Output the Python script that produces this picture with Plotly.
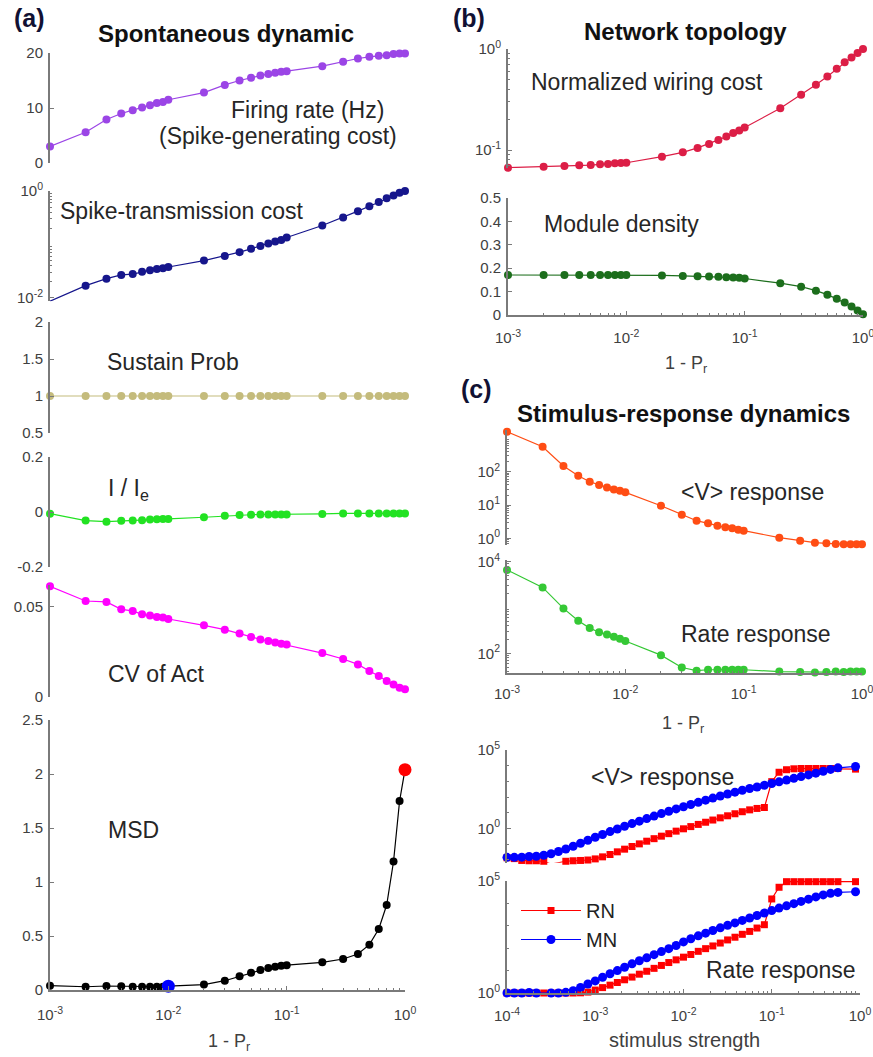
import plotly.graph_objects as go

W, H = 873, 1057

# ---------------- data ----------------
pr = [0.001, 0.002, 0.003, 0.004, 0.005, 0.006, 0.007, 0.008, 0.009,
      0.01, 0.02, 0.03, 0.04, 0.05, 0.06, 0.07, 0.08, 0.09,
      0.1, 0.2, 0.3, 0.4, 0.5, 0.6, 0.7, 0.8, 0.9, 1.0]

firing_rate = [3.0, 5.6, 7.9, 9.0, 9.6, 10.1, 10.5, 10.9, 11.1, 11.5, 12.8, 14.2, 15.0, 15.5,
               15.9, 16.2, 16.4, 16.6, 16.7, 17.6, 18.4, 19.0, 19.3, 19.5, 19.6, 19.8, 19.9, 19.9]
spike_trans = [0.0087, 0.017, 0.023, 0.027, 0.028, 0.031, 0.033, 0.035, 0.036, 0.038, 0.050, 0.061,
               0.072, 0.083, 0.094, 0.104, 0.114, 0.122, 0.135, 0.226, 0.32, 0.42, 0.52, 0.62,
               0.73, 0.82, 0.93, 1.0]
sustain_prob = [1, 1, 1, 1, 1, 1, 1, 1, 1, 1, 1, 1, 1, 1, 1, 1, 1, 1, 1, 1, 1, 1, 1, 1, 1, 1, 1, 1]
i_ie = [-0.006, -0.031, -0.035, -0.032, -0.031, -0.030, -0.027, -0.026, -0.025, -0.025, -0.019,
        -0.014, -0.011, -0.010, -0.009, -0.009, -0.009, -0.009, -0.009, -0.007, -0.005, -0.005,
        -0.005, -0.005, -0.005, -0.005, -0.005, -0.005]
cv_act = [0.0615, 0.0533, 0.0528, 0.0487, 0.0478, 0.0459, 0.0452, 0.0444, 0.0441, 0.0433, 0.0398,
          0.0374, 0.0352, 0.0333, 0.0320, 0.0311, 0.0302, 0.0296, 0.0291, 0.0244, 0.0211, 0.0181,
          0.0144, 0.0117, 0.0089, 0.0069, 0.0052, 0.0043]
msd = [0.04, 0.03, 0.037, 0.035, 0.03, 0.03, 0.03, 0.03, 0.03, 0.035, 0.05, 0.086, 0.127, 0.16,
       0.185, 0.204, 0.216, 0.225, 0.23, 0.256, 0.287, 0.333, 0.42, 0.565, 0.787, 1.19, 1.75, 2.04]
msd_blue_index = 9
msd_red_index = 27

wiring_cost = [0.0668, 0.0682, 0.0693, 0.0705, 0.0710, 0.0721, 0.0726, 0.0738, 0.0743, 0.0748,
               0.0859, 0.0948, 0.105, 0.115, 0.126, 0.136, 0.147, 0.156, 0.167, 0.259, 0.352,
               0.443, 0.535, 0.638, 0.738, 0.826, 0.912, 1.0]
module_density = [0.171, 0.171, 0.171, 0.171, 0.171, 0.171, 0.171, 0.171, 0.171, 0.171, 0.169,
                  0.167, 0.166, 0.164, 0.163, 0.161, 0.160, 0.159, 0.156, 0.136, 0.121, 0.104,
                  0.087, 0.069, 0.053, 0.036, 0.019, 0.003]

v_resp_pr = [1585, 562, 148, 75.9, 50.1, 39.8, 33.9, 29.5, 26.9, 24.0, 9.55, 5.13, 3.39, 2.82,
             2.40, 2.14, 2.0, 1.82, 1.70, 1.05, 0.851, 0.741, 0.708, 0.676, 0.661, 0.661, 0.661, 0.661]
rate_resp_pr = [6610, 2750, 955, 513, 355, 288, 257, 229, 209, 186, 91.2, 49.0, 41.7, 43.7, 43.7,
                43.7, 43.7, 43.7, 43.7, 39.8, 38.9, 38.0, 38.9, 39.8, 38.9, 39.8, 39.8, 39.8]

stim = [1.00e-4, 1.21e-4, 1.47e-4, 1.78e-4, 2.15e-4, 2.61e-4, 3.16e-4, 3.83e-4, 4.64e-4, 5.62e-4, 6.81e-4, 8.25e-4,
        1.00e-3, 1.21e-3, 1.47e-3, 1.78e-3, 2.15e-3, 2.61e-3, 3.16e-3, 3.83e-3, 4.64e-3, 5.62e-3, 6.81e-3, 8.25e-3,
        1.00e-2, 1.21e-2, 1.47e-2, 1.78e-2, 2.15e-2, 2.61e-2, 3.16e-2, 3.83e-2, 4.64e-2, 5.62e-2, 6.81e-2, 8.25e-2,
        0.100, 0.121, 0.147, 0.178, 0.215, 0.261, 0.316, 0.383, 0.464, 0.562, 0.89]

rn_v = [0.0132, 0.0117, 0.0089, 0.0085, 0.0085, 0.0079, 0.0052, 0.0063, 0.0079, 0.0085, 0.0089, 0.0095,
        0.0112, 0.0151, 0.0214, 0.0316, 0.0468, 0.0692, 0.102, 0.151, 0.219, 0.316, 0.457, 0.661,
        0.933, 1.29, 1.78, 2.45, 3.39, 4.68, 6.31, 8.51, 11.5, 15.1, 18.6, 21.4,
        955, 3800, 5500, 6310, 6610, 6610, 6610, 6610, 6610, 6610, 6030]
mn_v = [0.0141, 0.0141, 0.0145, 0.0158, 0.0166, 0.0191, 0.0240, 0.0331, 0.0479, 0.0724, 0.112, 0.174,
        0.269, 0.407, 0.617, 0.912, 1.35, 2.0, 2.88, 4.17, 6.03, 8.71, 12.3, 17.4,
        24.0, 33.1, 45.7, 63.1, 85.1, 115, 155, 204, 269, 347, 437, 562,
        724, 933, 1200, 1550, 2000, 2570, 3310, 4370, 5750, 7240, 8910]
rn_rate = [1.0, 1.0, 1.0, 1.0, 1.0, 1.0, 1.0, 1.0, 1.0, 1.0, 1.02, 1.10,
           1.35, 1.74, 2.24, 2.95, 3.89, 5.13, 6.92, 9.33, 12.6, 17.0, 22.9, 30.2,
           39.8, 52.5, 72.4, 95.5, 126, 170, 234, 309, 417, 562, 794, 1120,
           15800, 52500, 93300, 93300, 93300, 93300, 93300, 93300, 93300, 93300, 93300]
mn_rate = [1.0, 1.0, 1.0, 1.05, 1.0, 0.98, 1.0, 1.0, 1.07, 1.26, 1.78, 2.51,
           3.47, 5.01, 7.24, 10.0, 14.1, 20.0, 27.5, 37.2, 51.3, 70.8, 95.5, 132,
           191, 263, 355, 468, 617, 813, 1050, 1350, 1740, 2240, 2880, 3720,
           4790, 6170, 7760, 9770, 12300, 15500, 19500, 24000, 28200, 30900, 33100]

# ---------------- helpers ----------------
def X(p):
    return p / W


def Y(p):
    return 1 - p / H


FONT = "Liberation Sans, Arial, sans-serif"
AXC = "#7a7a7a"
TXC = "#404040"


def sup(e):
    return "10<sup>%d</sup>" % e


def log_minor(lo, hi):
    return [m * 10.0 ** e for e in range(lo, hi) for m in range(2, 10)]


def yaxis(top, bottom, rng, anchor, log=False, tickvals=None, ticktext=None, minor=None):
    d = dict(domain=[Y(bottom), Y(top)], range=rng, anchor=anchor, automargin=False,
             showline=True, linecolor=AXC, linewidth=2, ticks="inside", ticklen=4,
             tickcolor=AXC, tickwidth=1, showgrid=False, zeroline=False,
             tickfont=dict(family=FONT, size=15, color=TXC), tickmode="array",
             tickvals=tickvals, ticktext=ticktext, ticklabelstandoff=2,
             ticklabeloverflow="allow")
    if log:
        d["type"] = "log"
    if minor is not None:
        d["minor"] = dict(tickmode="array", tickvals=minor, ticks="inside", ticklen=2,
                          tickcolor=AXC, showgrid=False)
    return d


def xaxis(left, right, lo, hi, anchor, standoff):
    return dict(domain=[X(left), X(right)], range=[lo, hi], type="log", anchor=anchor,
                automargin=False, showline=True, linecolor=AXC, linewidth=2, ticks="inside",
                ticklen=4, tickcolor=AXC, showgrid=False, zeroline=False,
                tickfont=dict(family=FONT, size=15, color=TXC), tickmode="array",
                tickvals=[10.0 ** e for e in range(lo, hi + 1)],
                ticktext=[sup(e) for e in range(lo, hi + 1)], ticklabelstandoff=standoff,
                ticklabeloverflow="allow",
                minor=dict(tickmode="array", tickvals=log_minor(lo, hi), ticks="inside",
                           ticklen=2, tickcolor=AXC, showgrid=False))


fig = go.Figure()


def add(xs, ys, color, xa, ya, size=8, lw=1.2, symbol="circle", name=None, legend=False):
    fig.add_trace(go.Scatter(x=xs, y=ys, mode="lines+markers", xaxis=xa, yaxis=ya,
                             line=dict(color=color, width=lw),
                             marker=dict(color=color, size=size, symbol=symbol),
                             cliponaxis=False, name=name, showlegend=legend))


# panel (a)
add(pr, firing_rate, "#9b45e6", "x", "y")
add(pr, spike_trans, "#16168c", "x", "y2")
add(pr, sustain_prob, "#c4bb7c", "x", "y3")
add(pr, i_ie, "#22e222", "x", "y4")
add(pr, cv_act, "#ff00ff", "x", "y5")
add(pr, msd, "#000000", "x", "y6")
fig.add_trace(go.Scatter(x=[pr[msd_blue_index]], y=[msd[msd_blue_index]], mode="markers",
                         xaxis="x", yaxis="y6", marker=dict(color="#0000ff", size=13),
                         cliponaxis=False, showlegend=False))
fig.add_trace(go.Scatter(x=[pr[msd_red_index]], y=[msd[msd_red_index]], mode="markers",
                         xaxis="x", yaxis="y6", marker=dict(color="#ff0000", size=13),
                         cliponaxis=False, showlegend=False))
# panel (b)
add(pr, wiring_cost, "#dc1e46", "x2", "y7")
add(pr, module_density, "#1c6e1c", "x2", "y8")
# panel (c) top
add(pr, v_resp_pr, "#ff4d14", "x3", "y9")
add(pr, rate_resp_pr, "#35c835", "x3", "y10")
# panel (c) bottom
add(stim, rn_v, "#ff0000", "x4", "y11", size=7, symbol="square", name="RN", legend=True)
add(stim, mn_v, "#0000ff", "x4", "y11", size=9, name="MN", legend=True)
add(stim, rn_rate, "#ff0000", "x4", "y12", size=7, symbol="square")
add(stim, mn_rate, "#0000ff", "x4", "y12", size=9)

layout = dict(
    template="none",
    width=W, height=H, margin=dict(l=0, r=0, t=0, b=0, pad=0),
    paper_bgcolor="white", plot_bgcolor="rgba(0,0,0,0)",
    font=dict(family=FONT, color=TXC),
    showlegend=True,
    legend=dict(x=X(516), y=Y(891), xanchor="left", yanchor="top",
                bgcolor="rgba(0,0,0,0)", borderwidth=0,
                font=dict(family=FONT, size=20, color="#222222"),
                itemwidth=60, tracegroupgap=0),
)

layout["xaxis"] = xaxis(50, 405, -3, 0, "y6", 10)
layout["xaxis2"] = xaxis(508, 863, -3, 0, "y8", 8)
layout["xaxis3"] = xaxis(507, 862, -3, 0, "y10", 6)
layout["xaxis4"] = xaxis(507, 860, -4, 0, "y12", 8)

layout["yaxis"] = yaxis(53, 163, [0, 20], "x", tickvals=[0, 10, 20], ticktext=["0", "10", "20"])
layout["yaxis2"] = yaxis(191, 301.2, [-2.06, 0], "x", log=True, tickvals=[0.01, 1],
                         ticktext=[sup(-2), sup(0)], minor=log_minor(-3, 0))
layout["yaxis3"] = yaxis(322, 433, [0.5, 2], "x", tickvals=[0.5, 1, 1.5, 2],
                         ticktext=["0.5", "1", "1.5", "2"])
layout["yaxis4"] = yaxis(457, 567, [-0.2, 0.2], "x", tickvals=[-0.2, 0, 0.2],
                         ticktext=["-0.2", "0", "0.2"])
layout["yaxis5"] = yaxis(585, 697, [0, 0.0622], "x", tickvals=[0, 0.05], ticktext=["0", "0.05"])
layout["yaxis6"] = yaxis(720, 990, [0, 2.5], "x", tickvals=[0, 0.5, 1, 1.5, 2, 2.5],
                         ticktext=["0", "0.5", "1", "1.5", "2", "2.5"])
layout["yaxis7"] = yaxis(49, 168.2, [-1.18, 0], "x2", log=True, tickvals=[0.1, 1],
                         ticktext=[sup(-1), sup(0)], minor=log_minor(-2, 0))
layout["yaxis8"] = yaxis(198, 315, [0, 0.5], "x2", tickvals=[0, 0.1, 0.2, 0.3, 0.4, 0.5],
                         ticktext=["0", "0.1", "0.2", "0.3", "0.4", "0.5"])
layout["yaxis9"] = yaxis(430.1, 545, [-0.2, 3.25], "x3", log=True, tickvals=[1, 10, 100],
                         ticktext=[sup(0), sup(1), sup(2)], minor=log_minor(-1, 3))
layout["yaxis10"] = yaxis(559.9, 673.3, [1.563, 4.04], "x3", log=True, tickvals=[100, 10000],
                          ticktext=[sup(2), sup(4)], minor=log_minor(1, 5))
layout["yaxis11"] = yaxis(750, 862.8, [-2.2, 5], "x4", log=True, tickvals=[1, 1e5],
                          ticktext=[sup(0), sup(5)], minor=[10.0 ** e for e in range(-2, 5)])
layout["yaxis12"] = yaxis(881, 993, [0, 5], "x4", log=True, tickvals=[1, 1e5],
                          ticktext=[sup(0), sup(5)], minor=[10.0 ** e for e in range(1, 5)])


def ann(text, x, y, size=23, bold=False, xanchor="center", color="#262626"):
    t = "<b>%s</b>" % text if bold else text
    return dict(text=t, x=X(x), y=Y(y), xref="paper", yref="paper", xanchor=xanchor,
                yanchor="middle", showarrow=False, font=dict(family=FONT, size=size, color=color))


layout["annotations"] = [
    ann("(a)", 29, 18, size=25, bold=True, color="#111133"),
    ann("Spontaneous dynamic", 226, 34, size=24, bold=True, color="#111111"),
    ann("Firing rate (Hz)", 386, 110, xanchor="right"),
    ann("(Spike-generating cost)", 399, 136, xanchor="right"),
    ann("Spike-transmission cost", 58, 211, xanchor="left"),
    ann("Sustain Prob", 105, 362, xanchor="left"),
    ann("I / I<sub>e</sub>", 106, 490, xanchor="left"),
    ann("CV of Act", 106, 674, xanchor="left"),
    ann("MSD", 106, 830, xanchor="left"),
    ann("1 - P<sub>r</sub>", 229, 1042, size=18, color=TXC),
    ann("(b)", 469, 18, size=25, bold=True, color="#111133"),
    ann("Network topology", 685, 31, size=24, bold=True, color="#111111"),
    ann("Normalized wiring cost", 529, 82, xanchor="left"),
    ann("Module density", 542, 224, xanchor="left"),
    ann("1 - P<sub>r</sub>", 686, 365, size=18, color=TXC),
    ann("(c)", 477, 389, size=25, bold=True, color="#111133"),
    ann("Stimulus-response dynamics", 683, 413, size=24, bold=True, color="#111111"),
    ann("&lt;V&gt; response", 679, 492, xanchor="left"),
    ann("Rate response", 679, 634, xanchor="left"),
    ann("1 - P<sub>r</sub>", 683, 724, size=18, color=TXC),
    ann("&lt;V&gt; response", 662, 777),
    ann("Rate response", 858, 970, xanchor="right"),
    ann("stimulus strength", 684, 1040, size=20, color=TXC),
]

fig.update_layout(**layout)
fig.write_html("out.html", config={"displayModeBar": False},
               post_script="document.body.style.margin='0';")
